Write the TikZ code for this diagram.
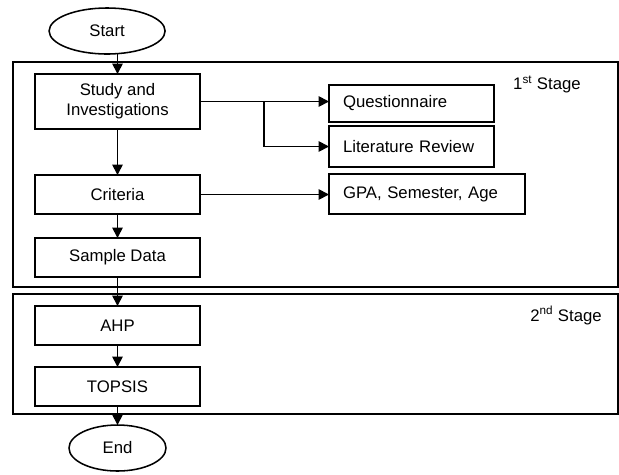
\documentclass[tikz,border=0pt]{standalone}
\usepackage{fontspec}
\setmainfont{Liberation Sans}
\usepackage{tikz}
\usetikzlibrary{arrows.meta,positioning,shapes.geometric}

\begin{document}
\begin{tikzpicture}[
  font=\fontsize{11.9}{14}\selectfont,
  box/.style={draw, line width=1.25pt, outer sep=0pt, align=center, minimum width=4.125cm, minimum height=0.975cm, inner sep=2pt},
  side/.style={draw, line width=1.25pt, outer sep=0pt, align=left, text width=3.425cm, inner xsep=0.35cm, minimum height=1cm},
  term/.style={draw, ellipse, line width=1.1pt, outer sep=0pt, minimum width=2.9cm, minimum height=1.15cm, inner sep=0pt},
  stage/.style={draw, line width=1.4pt, minimum width=15.125cm, inner sep=0pt},
  lbl/.style={inner sep=0pt, anchor=north east},
  arr/.style={-{Triangle[length=2.6mm, width=2.6mm]}, line width=1.25pt}]
\useasboundingbox (0,0) rectangle (15.475,-11.85);
% stages
\node[stage, minimum height=5.625cm] (stage1) at (7.8875,-4.3625) {};
\node[stage, minimum height=3cm] (stage2) at (7.8875,-8.85) {};
\node[lbl] (lbl1) at ([xshift=-0.95cm, yshift=-0.37cm]stage1.north east) {1\textsuperscript{st} Stage};
\node[lbl] (lbl2) at ([xshift=-0.425cm, yshift=-0.33cm]stage2.north east) {2\textsuperscript{nd} Stage};
% main column
\node[box, minimum height=1.375cm] (study) at (2.9375,-2.5375) {Study and\\ Investigations};
\node[term, above=0.5cm of study, xshift=-0.26cm] (start) {Start};
\node[box, below=1.15cm of study] (crit) {Criteria};
\node[box, below=0.6cm of crit] (sample) {Sample Data};
\node[box, below=0.725cm of sample] (ahp) {AHP};
\node[box, below=0.55cm of ahp] (topsis) {TOPSIS};
\node[term, below=0.475cm of topsis, minimum width=2.425cm] (end) {End};
% side column
\node[side, right=3.225cm of study, yshift=-0.05cm, minimum height=0.925cm] (quest) {Questionnaire};
\node[side, below=0.1cm of quest, minimum height=1.025cm] (litrev) {Literature Review};
\node[side, below right=0.175cm and 0cm of litrev.south west, text width=4.2cm] (gpa) {GPA, Semester, Age};
\coordinate[right=1.6cm of study.east] (split);
% arrows
\draw[arr] (start.south -| study.north) -- (study.north);
\draw[arr] (study) -- (crit);
\draw[arr] (crit) -- (sample);
\draw[arr] (sample) -- (ahp);
\draw[arr] (ahp) -- (topsis);
\draw[arr] (topsis) -- (end);
\draw[arr] (study.east) -- (study.east -| quest.west);
\draw[arr] (split) |- (litrev.west);
\draw[arr] (crit.east) -- (crit.east -| gpa.west);
\end{tikzpicture}
\end{document}
